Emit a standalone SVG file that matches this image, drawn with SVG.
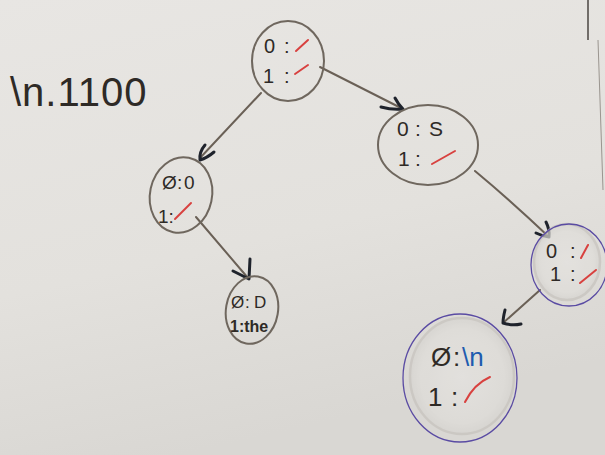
<svg xmlns="http://www.w3.org/2000/svg" width="605" height="455" viewBox="0 0 605 455">
  <defs>
    <linearGradient id="bg" x1="0" y1="0" x2="0.3" y2="1">
      <stop offset="0" stop-color="#e8e6e3"/>
      <stop offset="0.6" stop-color="#e3e1dd"/>
      <stop offset="1" stop-color="#d9d7d3"/>
    </linearGradient>
    <radialGradient id="smudge" cx="0.5" cy="0.5" r="0.5">
      <stop offset="0" stop-color="#e6e4e1"/>
      <stop offset="0.8" stop-color="#e0deda"/>
      <stop offset="1" stop-color="#d6d4d0"/>
    </radialGradient>
  </defs>
  <style>
    .node { fill: none; stroke: #6f675e; stroke-width: 2; }
    .purple { fill: none; stroke: #5a4ba3; stroke-width: 1.3; }
    .ghost { fill: url(#smudge); stroke: #c6c2bd; stroke-width: 2.5; opacity: 0.7; }
    .edge { fill: none; stroke: #6a6056; stroke-width: 2; stroke-linecap: round; }
    .head { fill: none; stroke: #1f232c; stroke-width: 3; stroke-linecap: round; stroke-linejoin: round; }
    .t { font-family: "Liberation Sans", "DejaVu Sans", sans-serif; fill: #2e2a26; }
    .red { fill: none; stroke: #d8413f; stroke-width: 2; stroke-linecap: round; }
    .blue { fill: #1e5caf; }
  </style>

  <rect x="0" y="0" width="605" height="455" fill="url(#bg)"/>
  <line x1="588" y1="0" x2="588" y2="40" stroke="#4a4642" stroke-width="1.5"/>
  <line x1="598" y1="40" x2="603" y2="190" stroke="#9a958f" stroke-width="1"/>

  <!-- title -->
  <text class="t" x="10" y="106" font-size="40" letter-spacing="1" fill="#3a3632">\n.1100</text>

  <!-- connectors -->
  <g id="connectors">
    <path class="edge" d="M261,93 L200,158"/>
    <path class="head" d="M205,145 Q199,152 200,160 Q207,158 214,152"/>
    <path class="edge" d="M320,67 L403,109"/>
    <path class="head" d="M395,98 Q398,104 403,109 Q392,110 381,107"/>
    <path class="edge" d="M196,217 L248,278"/>
    <path class="head" d="M250,259 L249,279 L233,271"/>
    <path class="edge" d="M475,171 Q510,200 549,237"/>
    <path class="head" d="M546,222 Q550,230 549,237 Q542,236 536,233"/>
    <path class="edge" d="M540,290 L503,323"/>
    <path class="head" d="M505,310 Q503,318 503,323 Q512,326 521,324"/>
  </g>

  <!-- root -->
  <g id="root">
    <ellipse class="node" cx="288" cy="61" rx="36" ry="40"/>
    <text class="t" font-size="20" x="264" y="53">0<tspan x="284">:</tspan></text>
    <path class="red" d="M296,51 L308,40"/>
    <text class="t" font-size="20" x="263" y="83">1<tspan x="284">:</tspan></text>
    <path class="red" d="M295,74 L308,65"/>
  </g>

  <!-- right child -->
  <g id="nodeR">
    <ellipse class="node" cx="428" cy="145" rx="50" ry="40"/>
    <text class="t" font-size="21" x="397" y="136">0<tspan x="415">:</tspan><tspan x="429">S</tspan></text>
    <text class="t" font-size="21" x="398" y="166">1<tspan x="415">:</tspan></text>
    <path class="red" d="M432,164 L455,151"/>
  </g>

  <!-- left child -->
  <g id="nodeL">
    <ellipse class="node" cx="181" cy="195" rx="31" ry="38" transform="rotate(12 181 195)"/>
    <text class="t" font-size="19" x="162" y="189">Ø<tspan x="177">:</tspan><tspan x="184">0</tspan></text>
    <text class="t" font-size="19" x="158" y="223">1:</text>
    <path class="red" d="M175,219 L191,203"/>
  </g>

  <!-- left-left leaf -->
  <g id="nodeLL">
    <ellipse class="node" cx="252" cy="310" rx="26" ry="34" transform="rotate(10 252 310)"/>
    <text class="t" font-size="17" x="231" y="308">Ø<tspan x="245">:</tspan><tspan x="254">D</tspan></text>
    <text class="t" font-size="16" font-weight="bold" x="230" y="332">1:the</text>
  </g>

  <!-- right-right -->
  <g id="nodeRR">
    <ellipse class="ghost" cx="567" cy="262" rx="33" ry="38"/>
    <ellipse class="purple" cx="569" cy="265" rx="38" ry="41"/>
    <text class="t" font-size="20" x="546" y="258">0<tspan x="570">:</tspan></text>
    <path class="red" d="M581,258 L588,245"/>
    <text class="t" font-size="20" x="550" y="281">1<tspan x="570">:</tspan></text>
    <path class="red" d="M580,283 L596,270"/>
  </g>

  <!-- bottom -->
  <g id="nodeB">
    <ellipse class="ghost" cx="462" cy="376" rx="52" ry="58"/>
    <ellipse class="purple" cx="460" cy="378" rx="57" ry="64"/>
    <text class="t" font-size="26" x="431" y="366">Ø<tspan x="453">:</tspan><tspan class="blue" x="462">\n</tspan></text>
    <text class="t" font-size="26" x="428" y="406">1<tspan x="451">:</tspan></text>
    <path class="red" d="M465,402 Q474,384 490,377"/>
  </g>
</svg>
